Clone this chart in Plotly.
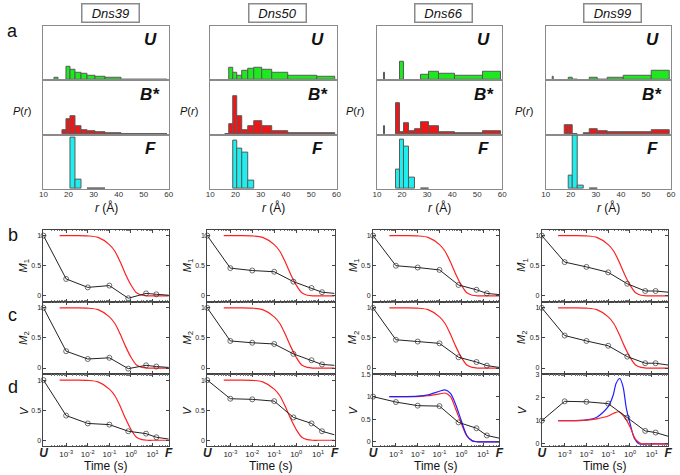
import plotly.graph_objects as go

W, H = 680, 475

proteins = ["Dns39", "Dns50", "Dns66", "Dns99"]
state_names = ["U", "B*", "F"]

# distance histogram bins (Å)
bin_lo = [14.5, 15.9, 17.4, 19.0, 20.8, 22.8, 25.0, 27.6, 30.6, 34.6, 41.0, 52.2]
bin_hi = [15.9, 17.4, 19.0, 20.8, 22.8, 25.0, 27.6, 30.6, 34.6, 41.0, 52.2, 59.5]
thin_r = 13.1

p_U = [
    [0.036, 0, 0, 0.24, 0.19, 0.145, 0.11, 0.085, 0.06, 0.04, 0.015, 0.006],
    [0, 0, 0.22, 0.13, 0.09, 0.175, 0.205, 0.225, 0.19, 0.13, 0.085, 0.06],
    [0, 0, 0, 0.33, 0, 0, 0, 0.10, 0.16, 0.115, 0.085, 0.15],
    [0, 0, 0, 0.036, 0.01, 0, 0, 0.04, 0.01, 0.04, 0.08, 0.18],
]
p_B = [
    [0, 0, 0.09, 0.285, 0.345, 0.15, 0.085, 0.06, 0.04, 0.025, 0.008, 0.006],
    [0, 0.01, 0.19, 0.70, 0.33, 0.09, 0.16, 0.25, 0.16, 0.06, 0.025, 0.02],
    [0, 0, 0.57, 0.04, 0.21, 0.07, 0.10, 0.22, 0.15, 0.04, 0.025, 0.06],
    [0, 0, 0.18, 0.165, 0.01, 0, 0.02, 0.10, 0.055, 0.05, 0.04, 0.09],
]
p_F = [
    [0, 0, 0, 0, 0.95, 0.18, 0, 0.008, 0.008, 0, 0, 0],
    [0, 0, 0, 0.89, 0.74, 0.67, 0.15, 0, 0, 0, 0, 0],
    [0, 0, 0.36, 0.91, 0.78, 0.21, 0, 0.01, 0, 0, 0, 0],
    [0, 0, 0, 0.245, 0.98, 0.06, 0, 0.01, 0, 0, 0, 0],
]
thin_U = [0, 0, 0.145, 0.06]
thin_B = [0, 0, 0.16, 0]
thin_F = [0, 0, 0, 0]

# kinetics: U, 1 ms, 10 ms, 100 ms, 0.75 s, 5 s, 15 s, F
t_pts = [10 ** -4.05, 1e-3, 1e-2, 1e-1, 0.75, 5, 15, 10 ** 1.75]
M1 = [
    [1.0, 0.28, 0.14, 0.17, -0.04, 0.04, 0.025, 0.01],
    [1.0, 0.46, 0.42, 0.40, 0.235, 0.13, 0.06, 0.04],
    [1.0, 0.50, 0.47, 0.43, 0.18, 0.10, 0.04, 0.02],
    [1.0, 0.56, 0.48, 0.39, 0.20, 0.08, 0.08, 0.06],
]
M2 = [
    [1.0, 0.28, 0.15, 0.17, -0.01, 0.045, 0.025, 0.01],
    [1.0, 0.45, 0.42, 0.40, 0.235, 0.13, 0.06, 0.045],
    [1.0, 0.47, 0.44, 0.41, 0.18, 0.10, 0.04, 0.01],
    [1.0, 0.54, 0.45, 0.37, 0.19, 0.08, 0.08, 0.05],
]
Vt = [
    [1.0, 0.41, 0.28, 0.26, 0.15, 0.11, 0.05, 0.02],
    [1.0, 0.69, 0.68, 0.65, 0.38, 0.28, 0.15, 0.09],
    [1.0, 0.88, 0.80, 0.79, 0.43, 0.30, 0.14, 0.08],
    [1.0, 1.83, 1.81, 1.73, 1.13, 0.56, 0.49, 0.33],
]

t_fit = [5e-4, 3e-3, 0.01, 0.03, 0.1, 0.18, 0.32, 0.56, 1.0, 1.8, 3.2, 5.6, 10, 56]
red_M = [1.0, 1.0, 0.995, 0.97, 0.85, 0.74, 0.56, 0.36, 0.18, 0.05, 0.01, 0.0, 0.0, 0.0]
red_V66 = [1.0, 1.0, 1.0, 1.02, 1.06, 1.08, 1.0, 0.72, 0.41, 0.13, 0.02, 0.0, 0.0, 0.0]
blue_V66 = [1.0, 1.0, 1.01, 1.04, 1.12, 1.15, 1.07, 0.82, 0.47, 0.14, 0.02, 0.0, 0.0, 0.0]
red_V99 = [1.0, 1.0, 1.02, 1.08, 1.2, 1.32, 1.38, 1.15, 0.74, 0.2, 0.02, 0.0, 0.0, 0.0]
t_blue99 = [5e-4, 3e-3, 0.01, 0.03, 0.1, 0.17, 0.23, 0.34, 0.48, 0.68, 1.0, 1.6, 2.7, 5.6, 56]
blue_V99 = [1.0, 1.0, 1.03, 1.15, 1.6, 2.1, 2.6, 2.81, 2.46, 1.53, 0.89, 0.24, 0.0, 0.0, 0.0]

FONT = "Arial, Liberation Sans, sans-serif"
hist_colors = ["#1ee81e", "#ee1616", "#1eeeee"]

hist_left = [40, 209, 378, 549]
hist_right = [167, 337, 505, 676]
hist_rows = [(22, 77), (77, 132), (132, 187)]
kin_left = [40, 206, 374, 545]
kin_right = [167, 335, 502, 673]
kin_rows = [(228, 301), (301, 374), (374, 447)]


def xdom(l, r):
    return [l / W, r / W]


def ydom(t, b):
    return [1 - b / H, 1 - t / H]


def label(text, px, py, size, angle=0, **kw):
    return dict(text=text, xref="paper", yref="paper", x=px / W, y=1 - py / H,
                xanchor="center", yanchor="middle", showarrow=False, textangle=angle,
                font=dict(size=size, color="#111", family=FONT), **kw)


fig = go.Figure()
layout = {}
annotations = []
n = 0

minor_vals = [k * 10 ** e for e in range(-5, 2) for k in range(2, 10)]

for c, prot in enumerate(proteins):
    hists = [(p_U[c], thin_U[c]), (p_B[c], thin_B[c]), (p_F[c], thin_F[c])]
    for r, (vals, thin) in enumerate(hists):
        n += 1
        xs, ws, hs = [], [], []
        if thin > 0:
            xs.append(thin_r); ws.append(0.35); hs.append(thin)
        for lo, hi, v in zip(bin_lo, bin_hi, vals):
            if v > 0:
                xs.append((lo + hi) / 2); ws.append(hi - lo); hs.append(v)
        xa = "x" if n == 1 else f"x{n}"
        ya = "y" if n == 1 else f"y{n}"
        fig.add_trace(go.Bar(x=xs, y=hs, width=ws, xaxis=xa, yaxis=ya,
                             marker=dict(color=hist_colors[r], line=dict(color="#5a5a5a", width=1)),
                             showlegend=False))
        t, b = hist_rows[r]
        layout["xaxis" if n == 1 else f"xaxis{n}"] = dict(
            domain=xdom(hist_left[c], hist_right[c]), anchor=ya, range=[10, 60],
            tickvals=[10, 20, 30, 40, 50, 60], showticklabels=(r == 2), ticks="",
            ticklabelstandoff=-3,
            tickfont=dict(size=8, color="#333"), showline=True, mirror=True,
            linecolor="#8a8a8a", linewidth=1, showgrid=False, zeroline=False)
        layout["yaxis" if n == 1 else f"yaxis{n}"] = dict(
            domain=ydom(t, b), anchor=xa, range=[0, 1.0], showticklabels=False, ticks="",
            showline=True, mirror=True, linecolor="#8a8a8a", linewidth=1,
            showgrid=False, zeroline=False)
        annotations.append(label(f"<b><i>{state_names[r]}</i></b>", hist_right[c] - 19, t + 14, 17))
    # column titles and labels
    annotations.append(label(f"<i>{prot}</i>", (hist_left[c] + hist_right[c] + 8) / 2, 9, 13,
                             bgcolor="white", bordercolor="#8a8a8a", borderwidth=1.5,
                             borderpad=1, width=54))
    annotations.append(label("<i>P</i>(<i>r</i>)", hist_left[c] - 22, 108, 11))
    annotations.append(label("<i>r</i> (Å)", (hist_left[c] + hist_right[c]) / 2, 206, 12))

    # kinetics panels
    if c == 2:
        v_sets = [(t_fit, red_V66, "#ff2020"), (t_fit, blue_V66, "#2020ff")]
        v_range, v_ticks, v_text = [-0.1, 1.5], [0, 0.5, 1, 1.5], ["0", "0.5", "1", "1.5"]
    elif c == 3:
        v_sets = [(t_blue99, blue_V99, "#2020ff"), (t_fit, red_V99, "#ff2020")]
        v_range, v_ticks, v_text = [-0.1, 3.0], [0, 1, 2, 3], ["0", "1", "2", "3"]
    else:
        v_sets = [(t_fit, red_M, "#ff2020")]
        v_range, v_ticks, v_text = [-0.1, 1.1], [0, 0.5, 1], ["0", "0.5", "1"]
    rows = [
        (M1[c], [(t_fit, red_M, "#ff2020")], "<i>M</i><sub>1</sub>", [-0.1, 1.1], [0, 0.5, 1], ["0", "0.5", "1"]),
        (M2[c], [(t_fit, red_M, "#ff2020")], "<i>M</i><sub>2</sub>", [-0.1, 1.1], [0, 0.5, 1], ["0", "0.5", "1"]),
        (Vt[c], v_sets, "<i>V</i>", v_range, v_ticks, v_text),
    ]

    for r, (pts, curves, lab, yr, yt, ytt) in enumerate(rows):
        n += 1
        xa, ya = f"x{n}", f"y{n}"
        for tx, ty, col in curves:
            fig.add_trace(go.Scatter(x=tx, y=ty, mode="lines", xaxis=xa, yaxis=ya,
                                     line=dict(color=col, width=1.2, shape="spline", smoothing=0.8),
                                     showlegend=False))
        fig.add_trace(go.Scatter(x=t_pts, y=pts, mode="lines+markers", xaxis=xa, yaxis=ya,
                                 cliponaxis=False, line=dict(color="#222", width=1),
                                 marker=dict(symbol="circle-open", size=[5, 5, 5, 5, 5, 5, 5, 0],
                                             color="#333", line=dict(width=1)),
                                 showlegend=False))
        t, b = kin_rows[r]
        layout[f"xaxis{n}"] = dict(
            domain=xdom(kin_left[c], kin_right[c]), anchor=ya, type="log", range=[-4.05, 1.75],
            tickmode="array",
            tickvals=[10 ** -4.05, 1e-3, 1e-2, 1e-1, 1, 10, 10 ** 1.75],
            ticktext=["<span style='font-size:12px'><b><i>U</i></b></span>",
                      "10<sup>-3</sup>", "10<sup>-2</sup>", "10<sup>-1</sup>",
                      "10<sup>0</sup>", "10<sup>1</sup>",
                      "<span style='font-size:12px'><b><i>F</i></b></span>"],
            showticklabels=(r == 2), tickfont=dict(size=8, color="#222"),
            ticks="inside", ticklen=3, tickcolor="#444",
            minor=dict(ticks="inside", ticklen=1.5, tickcolor="#777", tickmode="array", tickvals=minor_vals),
            showline=True, mirror="ticks", linecolor="#444", linewidth=1,
            showgrid=False, zeroline=False)
        layout[f"yaxis{n}"] = dict(
            domain=ydom(t, b), anchor=xa, range=yr, tickmode="array", tickvals=yt, ticktext=ytt,
            tickfont=dict(size=7, color="#222"), ticks="inside", ticklen=3, tickcolor="#444",
            showline=True, mirror="ticks", linecolor="#444", linewidth=1,
            showgrid=False, zeroline=False)
        annotations.append(label(lab, kin_left[c] - 20, (t + b) / 2, 11, angle=-90))
    annotations.append(label("Time (s)", (kin_left[c] + kin_right[c]) / 2, 467, 12))

for letter, yy in [("a", 27), ("b", 233), ("c", 314), ("d", 387)]:
    annotations.append(label(letter, 9, yy, 18))

fig.update_layout(
    width=W, height=H, autosize=False,
    margin=dict(l=0, r=0, t=0, b=0),
    paper_bgcolor="white", plot_bgcolor="white",
    font=dict(family=FONT, color="#222"),
    barmode="overlay", bargap=0,
    annotations=annotations,
    **layout,
)

fig.write_html("out.html", config={"displayModeBar": False},
               post_script="document.body.style.margin='0';")
